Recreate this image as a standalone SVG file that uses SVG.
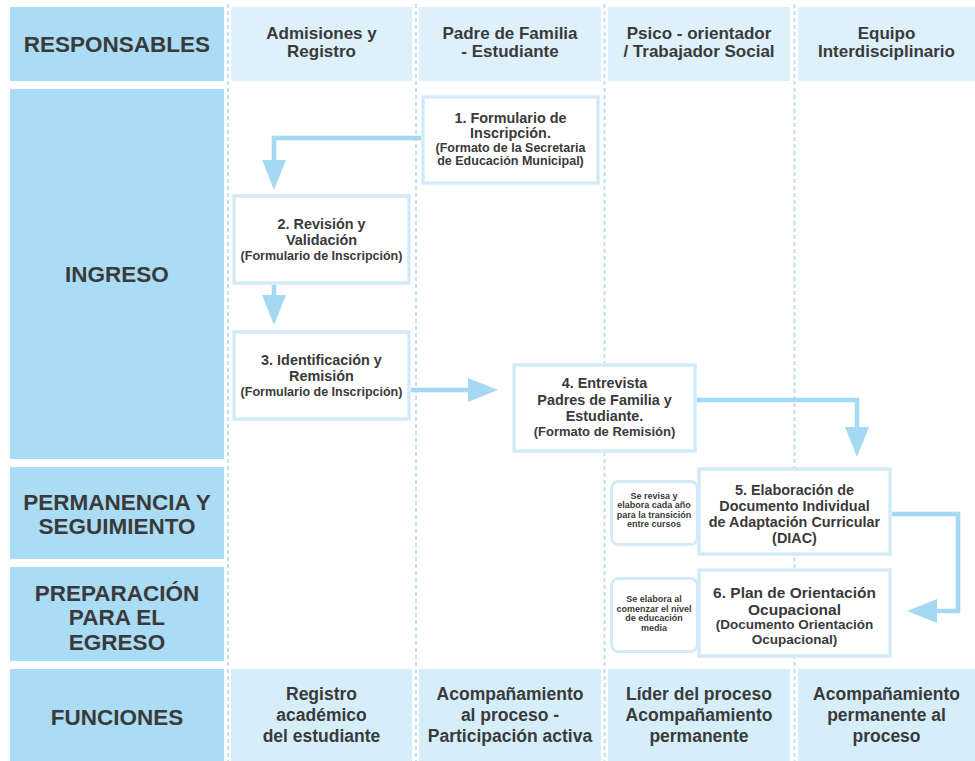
<svg xmlns="http://www.w3.org/2000/svg" width="975" height="761" viewBox="0 0 975 761">
<style>
.lane{fill:#AADCF5}
.hdr{fill:#DEF1FB}
.fn{fill:#D6EEFA}
.dash{stroke:#BDE2F5;stroke-width:2;stroke-dasharray:4 3;fill:none}
.box{fill:#fff;stroke:#D3EBF9;stroke-width:3.5}
.note{fill:#fff;stroke:#D3EBF9;stroke-width:3}
.arrow{fill:none;stroke:#A5D9F3;stroke-width:4.5;marker-end:url(#ah)}
text{font-family:"Liberation Sans",Arial,sans-serif;font-weight:bold;fill:#3A3A3A;text-anchor:middle}
.big{font-size:22.5px}
.h{font-size:17px}
.t{font-size:14.4px}
.s{font-size:12.5px}
.n{font-size:9px}
.f{font-size:17.5px}
</style>
<defs>
<marker id="ah" markerUnits="userSpaceOnUse" markerWidth="30" markerHeight="26" viewBox="0 0 30 26" refX="0" refY="13" orient="auto">
<path d="M0,1 L30,13 L0,25 z" fill="#A5D9F3"/>
</marker>
</defs>
<rect width="975" height="761" fill="#fff"/>

<g id="lanes">
<rect class="lane" x="10" y="7" width="214" height="74"/>
<rect class="lane" x="10" y="89" width="214" height="370"/>
<rect class="lane" x="10" y="467" width="214" height="92"/>
<rect class="lane" x="10" y="567" width="214" height="94"/>
<rect class="lane" x="10" y="669" width="214" height="92"/>
<rect class="hdr" x="231" y="7" width="181" height="74"/>
<rect class="hdr" x="419" y="7" width="182" height="74"/>
<rect class="hdr" x="608" y="7" width="182" height="74"/>
<rect class="hdr" x="798" y="7" width="177" height="74"/>
<rect class="fn" x="231" y="669" width="181" height="92"/>
<rect class="fn" x="419" y="669" width="182" height="92"/>
<rect class="fn" x="608" y="669" width="182" height="92"/>
<rect class="fn" x="798" y="669" width="177" height="92"/>
<path class="dash" d="M228,4 V761 M416,4 V761 M604.5,4 V761 M794.5,4 V761"/>
<text class="big" x="117" y="51.5">RESPONSABLES</text>
<text class="big" x="117" y="282">INGRESO</text>
<text class="big" x="117" y="509.5">PERMANENCIA Y</text>
<text class="big" x="117" y="534">SEGUIMIENTO</text>
<text class="big" x="117" y="601">PREPARACIÓN</text>
<text class="big" x="117" y="625">PARA EL</text>
<text class="big" x="117" y="649.5">EGRESO</text>
<text class="big" x="117" y="724.5">FUNCIONES</text>
<text class="h" x="321.5" y="38.5">Admisiones y</text>
<text class="h" x="321.5" y="56.5">Registro</text>
<text class="h" x="510" y="38.5">Padre de Familia</text>
<text class="h" x="510" y="56.5">- Estudiante</text>
<text class="h" x="699" y="38.5">Psico - orientador</text>
<text class="h" x="699" y="56.5">/ Trabajador Social</text>
<text class="h" x="886.5" y="38.5">Equipo</text>
<text class="h" x="886.5" y="56.5">Interdisciplinario</text>
<text class="f" x="321.5" y="700">Registro</text>
<text class="f" x="321.5" y="721">académico</text>
<text class="f" x="321.5" y="742">del estudiante</text>
<text class="f" x="510" y="700">Acompañamiento</text>
<text class="f" x="510" y="721">al proceso -</text>
<text class="f" x="510" y="742">Participación activa</text>
<text class="f" x="699" y="700">Líder del proceso</text>
<text class="f" x="699" y="721">Acompañamiento</text>
<text class="f" x="699" y="742">permanente</text>
<text class="f" x="886.5" y="700">Acompañamiento</text>
<text class="f" x="886.5" y="721">permanente al</text>
<text class="f" x="886.5" y="742">proceso</text>
</g>

<g id="connectors">
<path class="arrow" d="M421,138 H274 V160"/>
<path class="arrow" d="M274,285 V295"/>
<path class="arrow" d="M411,390 H468"/>
<path class="arrow" d="M697,400 H857 V427"/>
<path class="arrow" d="M892,514 H958 V611 H937"/>
</g>

<g id="n1">
<rect class="box" x="423" y="97" width="175" height="86"/>
<text class="t" x="510.5" y="122.5">1. Formulario de</text>
<text class="t" x="510.5" y="138">Inscripción.</text>
<text class="s" x="510.5" y="151.5">(Formato de la Secretaria</text>
<text class="s" x="510.5" y="164.5">de Educación Municipal)</text>
</g>
<g id="n2">
<rect class="box" x="234" y="196" width="175" height="87"/>
<text class="t" x="321.5" y="229">2. Revisión y</text>
<text class="t" x="321.5" y="245">Validación</text>
<text class="s" x="321.5" y="259.5">(Formulario de Inscripción)</text>
</g>
<g id="n3">
<rect class="box" x="234" y="332" width="175" height="87"/>
<text class="t" x="321.5" y="365">3. Identificación y</text>
<text class="t" x="321.5" y="381">Remisión</text>
<text class="s" x="321.5" y="395.5">(Formulario de Inscripción)</text>
</g>
<g id="n4">
<rect class="box" x="514" y="365" width="181" height="86"/>
<text class="t" x="604.5" y="388">4. Entrevista</text>
<text class="t" x="604.5" y="404.5">Padres de Familia y</text>
<text class="t" x="604.5" y="420.5">Estudiante.</text>
<text class="s" x="604.5" y="436" style="font-size:13px">(Formato de Remisión)</text>
</g>
<g id="note1">
<rect class="note" x="611.5" y="481.5" width="86" height="63" rx="7"/>
<text class="n" x="654" y="498.5">Se revisa y</text>
<text class="n" x="654" y="508">elabora cada año</text>
<text class="n" x="654" y="517.5">para la transición</text>
<text class="n" x="654" y="527">entre cursos</text>
</g>
<g id="note2">
<rect class="note" x="611.5" y="578.5" width="86" height="73" rx="7"/>
<text class="n" x="654" y="602">Se elabora al</text>
<text class="n" x="654" y="611.5">comenzar el nivel</text>
<text class="n" x="654" y="621">de educación</text>
<text class="n" x="654" y="630.5">media</text>
</g>
<g id="n5">
<rect class="box" x="699" y="469" width="191" height="85"/>
<text class="t" x="794.5" y="495">5. Elaboración de</text>
<text class="t" x="794.5" y="511">Documento Individual</text>
<text class="t" x="794.5" y="527">de Adaptación Curricular</text>
<text class="t" x="794.5" y="542.5">(DIAC)</text>
</g>
<g id="n6">
<rect class="box" x="699" y="570" width="191" height="86"/>
<text class="t" x="794.5" y="598" style="font-size:15.5px">6. Plan de Orientación</text>
<text class="t" x="794.5" y="614.5" style="font-size:15.5px">Ocupacional</text>
<text class="s" x="794.5" y="628.5" style="font-size:13.5px">(Documento Orientación</text>
<text class="s" x="794.5" y="643.5" style="font-size:13.5px">Ocupacional)</text>
</g>
</svg>
